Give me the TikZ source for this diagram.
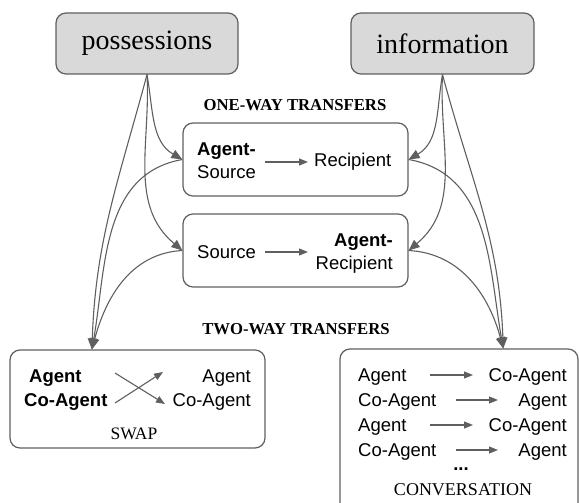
\documentclass[tikz,border=0pt]{standalone}
\usepackage{fontspec}
\setmainfont{Liberation Sans}
\newfontfamily\titlefont{Liberation Serif}
\usetikzlibrary{arrows.meta,calc}
\definecolor{edge}{HTML}{5F5F5F}
\definecolor{boxfill}{HTML}{D9D9D9}
\begin{document}
\begin{tikzpicture}[x=1pt,y=1pt,
  box/.style={draw=edge, line width=1.2pt, rounded corners=10pt, inner sep=0pt},
  topbox/.style={box, fill=boxfill, minimum width=182pt, minimum height=61pt, font=\titlefont\fontsize{28}{30}\selectfont},
  conn/.style={draw=edge, line width=1.1pt, -{Triangle[length=11pt,width=9pt]}},
  inarr/.style={draw=edge, line width=1.1pt, -{Triangle[length=9pt,width=7pt]}},
  txt/.style={inner sep=0pt, font=\fontsize{18.5}{22}\selectfont},
  btxt/.style={inner sep=0pt, font=\bfseries\fontsize{18.5}{22}\selectfont},
  head/.style={inner sep=0pt, font=\titlefont\bfseries\fontsize{16.7}{20}\selectfont},
  lab/.style={inner sep=0pt, font=\titlefont\fontsize{17.5}{20}\selectfont}
]
\useasboundingbox (0,0) rectangle (579,-503);

% top boxes
\node[topbox] (poss) at (147,-43.5) {possessions};
\node[topbox, minimum width=183pt] (info) at (442.5,-43.5) {information};

% headings
\node[head] (one) at (295,-105) {ONE-WAY TRANSFERS};
\node[head] (two) at (296,-329) {TWO-WAY TRANSFERS};

% boxes
\node[box, minimum width=225pt, minimum height=73pt] (b1) at (295.5,-159.5) {};
\node[box, minimum width=225pt, minimum height=73pt] (b2) at (295.5,-250.5) {};
\node[box, minimum width=255pt, minimum height=98pt] (swap) at (137.5,-399) {};
\node[box, minimum width=238pt, minimum height=165pt] (conv) at (459,-431.5) {};

% box 1 content
\node[btxt, anchor=base west] (b1a) at (197,-155) {Agent-};
\node[txt, anchor=base west] (b1s) at (197,-178) {Source};
\node[txt, anchor=base west] (b1r) at (314,-166.5) {Recipient};
\coordinate (b1p) at (265,-162);
\coordinate (b1q) at (308,-162);
\draw[inarr] (b1p) -- (b1q);

% box 2 content
\node[txt, anchor=base west] (b2s) at (197,-258) {Source};
\node[btxt, anchor=base east] (b2a) at (393,-246.7) {Agent-};
\node[txt, anchor=base east] (b2r) at (393,-269) {Recipient};
\coordinate (b2p) at (265,-252);
\coordinate (b2q) at (308,-252);
\draw[inarr] (b2p) -- (b2q);

% swap content
\node[btxt, anchor=base west] (sa) at (29,-382) {Agent};
\node[btxt, anchor=base west] (sc) at (24,-406.7) {Co-Agent};
\node[txt, anchor=base east] (ra) at (251,-382) {Agent};
\node[txt, anchor=base east] (rc) at (251,-406.7) {Co-Agent};
\coordinate (x1s) at (115,-373);
\coordinate (x1e) at (165,-404);
\coordinate (x2s) at (115,-403);
\coordinate (x2e) at (163,-372);
\draw[inarr] (x1s) -- (x1e);
\draw[inarr] (x2s) -- (x2e);
\node[lab, anchor=base] (swl) at (134,-439) {SWAP};

% conversation content
\node[txt, anchor=base west] (l1) at (358,-381.7) {Agent};
\node[txt, anchor=base west] (l2) at (358,-406.7) {Co-Agent};
\node[txt, anchor=base west] (l3) at (358,-431.7) {Agent};
\node[txt, anchor=base west] (l4) at (358,-456.7) {Co-Agent};
\node[txt, anchor=base east] (r1) at (567,-381.7) {Co-Agent};
\node[txt, anchor=base east] (r2) at (567,-406.7) {Agent};
\node[txt, anchor=base east] (r3) at (567,-431.7) {Co-Agent};
\node[txt, anchor=base east] (r4) at (567,-456.7) {Agent};
\coordinate (c1s) at (430,-375); \coordinate (c1e) at (473,-375);
\coordinate (c2s) at (456,-400); \coordinate (c2e) at (498,-400);
\coordinate (c3s) at (430,-425); \coordinate (c3e) at (473,-425);
\coordinate (c4s) at (456,-450); \coordinate (c4e) at (498,-450);
\draw[inarr] (c1s) -- (c1e);
\draw[inarr] (c2s) -- (c2e);
\draw[inarr] (c3s) -- (c3e);
\draw[inarr] (c4s) -- (c4e);
\node[txt, anchor=base] (dots) at (461,-470) {\textbf{...}};
\node[lab, anchor=base, font=\titlefont\fontsize{18}{20}\selectfont] (cvl) at (463,-495) {CONVERSATION};

% connectors left
\coordinate (swapin) at ($(swap.north west)!0.322!(swap.north east)$);
\draw[conn] (poss.south) to[out=-80,in=150] (b1.west);
\draw[conn] (poss.south) to[out=-87,in=140] (b2.west);
\draw[conn] (poss.south) to[out=-105,in=88] (swapin);
\draw[conn] (b1.west) to[out=190,in=80] (swapin);
\draw[conn] (b2.west) to[out=183,in=75] (swapin);

% connectors right
\coordinate (convin) at ($(conv.north west)!0.685!(conv.north east)$);
\draw[conn] (info.south) to[out=-100,in=30] (b1.east);
\draw[conn] (info.south) to[out=-93,in=40] (b2.east);
\draw[conn] (info.south) to[out=-75,in=92] (convin);
\draw[conn] (b1.east) to[out=-10,in=100] (convin);
\draw[conn] (b2.east) to[out=-3,in=105] (convin);
\end{tikzpicture}
\end{document}
